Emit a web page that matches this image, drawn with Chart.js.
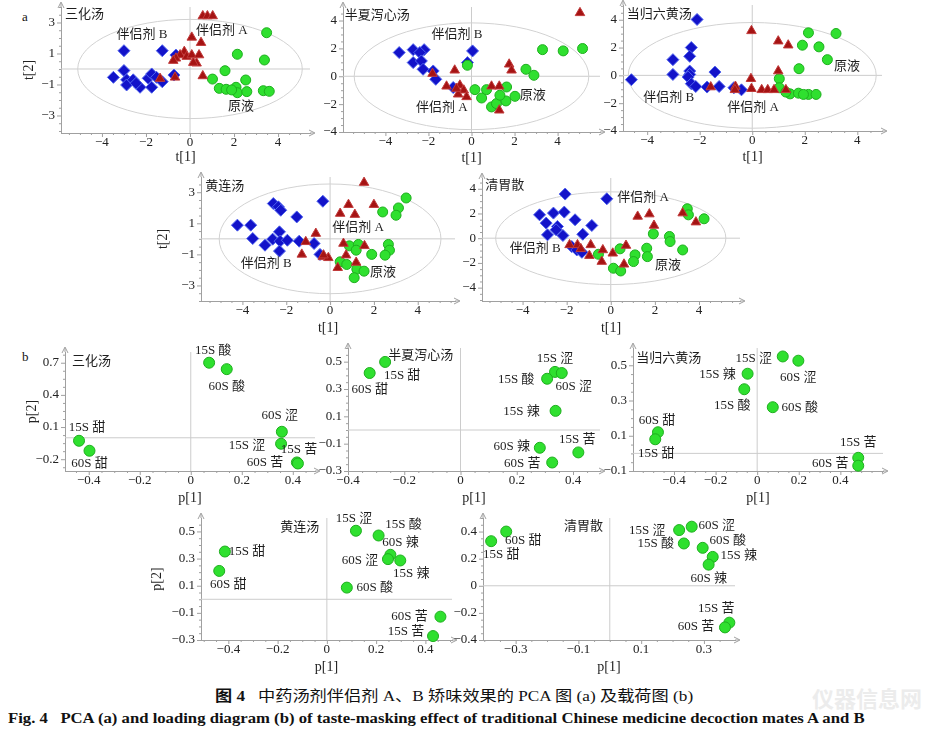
<!DOCTYPE html>
<html>
<head>
<meta charset="utf-8">
<script src="https://cdn.jsdelivr.net/npm/chart.js@4"></script>
<style>
body{margin:0;background:#fff;width:932px;height:740px;position:relative;overflow:hidden}
canvas{position:absolute}
.cap{position:absolute;white-space:pre;color:#111;line-height:1;transform-origin:left center}
</style>
</head>
<body>
<div class="cap" style="left:22px;top:9px;font:13px 'Liberation Serif'">a</div>
<div class="cap" style="left:22px;top:349px;font:13px 'Liberation Serif'">b</div>
<div class="cap" style="left:812px;top:681px;font:bold 22px 'Noto Sans CJK SC';color:#ececec">仪器信息网</div>
<div id="cap1" class="cap" style="left:215px;top:684px;font:15px 'Liberation Serif','Noto Sans CJK SC'"><b>图 4</b>   中药汤剂伴侣剂 A、B 矫味效果的 PCA 图 (a) 及载荷图 (b)</div>
<div id="cap2" class="cap" style="left:8px;top:711px;font:bold 14px 'Liberation Serif'">Fig. 4   PCA (a) and loading diagram (b) of taste-masking effect of traditional Chinese medicine decoction mates A and B</div>
<script>
// ---- score plots (a): [t1, t2] ----
const sanhuaB = [[-3.0,1.18],[-1.26,1.18],[-0.64,0.9],[-3.48,-0.54],[-3.0,-0.1],[-2.88,-0.7],[-2.88,-1.03],[-2.58,-0.7],[-2.27,-1.18],[-2.45,-0.92],[-1.9,-0.6],[-1.74,-0.32],[-1.74,-1.18],[-1.52,-0.54],[-1.26,-0.82],[-0.73,-0.39]];
const sanhuaA = [[0.58,3.42],[0.79,3.42],[1.03,3.42],[0.08,2.04],[0.5,1.7],[-0.26,1.12],[-0.45,0.9],[-0.64,0.69],[-0.76,0.54],[-0.15,0.8],[0.08,0.9],[0.41,0.9],[0.3,0.37],[0.15,0.41],[0.58,-0.45],[-0.68,-0.54],[-1.36,-0.62]];
const sanhuaY = [[3.48,2.34],[2.15,0.95],[3.38,0.58],[1.59,-0.11],[1.02,-0.65],[2.53,-0.71],[1.33,-1.25],[1.64,-1.31],[2.09,-1.18],[2.15,-1.53],[2.58,-1.46],[3.33,-1.4],[3.6,-1.44],[1.89,-1.35]];

const banxiaB = [[-3.36,1.7],[-2.71,1.91],[-2.2,1.91],[-2.4,1.7],[-2.71,0.98],[-2.33,1.1],[-2.25,0.5],[-1.78,0.38],[-1.66,-0.22],[0.05,1.82],[-0.19,0.98],[-0.85,-0.81]];
const banxiaA = [[5.04,4.55],[1.75,0.86],[1.86,0.43],[-0.78,0.43],[-1.81,0.19],[-1.16,-0.72],[-0.54,-0.65],[-0.36,-1.0],[-0.62,-1.29],[-0.23,-1.48],[0.93,-0.72],[1.29,-0.72],[1.29,-2.44],[-0.7,-0.88]];
const banxiaY = [[-0.19,0.79],[3.3,1.91],[4.26,1.82],[5.16,1.99],[2.53,0.5],[2.9,0.07],[0.16,-0.96],[0.47,-1.56],[0.7,-0.96],[0.93,-2.2],[1.16,-1.96],[1.63,-0.77],[1.6,-1.77],[2.02,-1.44],[1.32,-1.36]];

const dangguiB = [[-2.1,4.02],[-4.6,-0.31],[-3.02,1.13],[-3.02,0.07],[-2.32,2.0],[-2.38,1.37],[-2.38,0.31],[-2.38,0.07],[-2.44,-0.12],[-2.32,-0.6],[-2.15,-0.8],[-1.42,0.24],[-1.26,-0.8],[-1.72,-0.84],[-0.41,-1.04],[-0.7,-0.89]];
const dangguiA = [[-0.03,3.2],[0.99,2.46],[1.37,2.17],[0.99,0.31],[-0.05,-0.24],[-0.03,-0.96],[-0.64,-0.8],[-0.66,-1.04],[-1.58,-0.84],[0.36,-1.04],[0.59,-1.04],[0.83,-1.04],[1.28,-1.04]];
const dangguiY = [[2.14,3.06],[3.19,3.01],[1.91,2.17],[2.54,2.05],[2.86,1.13],[1.78,0.48],[1.03,-0.24],[1.03,-0.89],[1.44,-1.33],[1.76,-1.28],[2.14,-1.37],[2.43,-1.37],[1.28,-1.2],[1.95,-1.37]];

const huanglianB = [[-4.23,0.88],[-3.62,0.88],[-3.53,0.02],[-2.97,-0.41],[-2.59,2.27],[-2.36,2.06],[-2.25,1.84],[-1.52,1.41],[-0.33,2.42],[-2.62,-0.02],[-2.31,0.45],[-2.28,-0.15],[-2.31,-0.79],[-1.95,-0.09],[-1.41,-0.15],[-0.73,-0.3],[-0.46,-1.0]];
const huanglianA = [[1.55,3.62],[0.84,2.2],[0.46,1.63],[1.13,1.56],[2.0,2.2],[-0.65,0.34],[-1.11,-0.19],[-1.29,-1.0],[-0.33,-1.16],[-0.08,-1.22],[0.61,-0.3],[0.73,-1.05],[1.57,-0.45],[1.19,-1.52],[0.35,-1.86],[-0.3,-1.05]];
const huanglianY = [[3.47,2.63],[3.12,1.99],[3.01,1.52],[2.4,1.73],[0.88,-0.45],[1.29,-0.36],[1.19,-0.73],[1.9,-1.0],[2.66,-0.36],[2.71,-0.73],[2.51,-1.05],[0.46,-1.48],[0.76,-1.65],[1.22,-1.95],[1.55,-2.08],[1.1,-2.5]];

const qingweiB = [[-2.07,3.57],[-0.18,3.19],[-3.23,1.89],[-2.6,2.03],[-2.11,2.11],[-2.93,1.22],[-1.62,1.49],[-0.86,1.03],[-2.42,0.95],[-2.48,0.68],[-2.87,0.27],[-2.17,0.22],[-1.27,0.32],[-1.77,-0.68],[-1.54,-0.95],[-1.31,-1.14]];
const qingweiA = [[-1.87,-0.54],[-1.51,-0.54],[-1.36,-0.86],[-0.91,-0.54],[-0.97,-1.41],[-0.36,-0.95],[-0.41,-1.89],[0.09,-1.22],[0.69,-0.59],[0.6,-2.11],[1.22,1.76],[1.75,1.95],[1.96,1.03],[3.26,2.03],[3.86,1.3]];
const qingweiY = [[3.47,2.38],[3.52,1.89],[4.23,1.57],[1.93,0.35],[2.66,0.14],[2.69,-0.27],[3.26,-0.95],[1.63,-0.81],[1.66,-1.49],[1.1,-1.35],[1.03,-1.89],[0.42,-0.86],[-0.56,-1.3],[0.12,-2.43],[0.45,-2.65]];

// ---- loading plots (b): [p1, p2] ----
const sanhuaLoadNames = ["15S 酸","60S 酸","60S 涩","15S 涩","15S 苦","60S 苦","15S 甜","60S 甜"];
const sanhuaLoad = [[0.072,0.70],[0.141,0.64],[0.357,0.056],[0.354,-0.056],[0.416,-0.23],[0.42,-0.24],[-0.438,-0.028],[-0.397,-0.121]];
const banxiaLoadNames = ["15S 甜","60S 甜","15S 涩","60S 涩","15S 酸","15S 辣","60S 辣","15S 苦","60S 苦"];
const banxiaLoad = [[-0.268,0.498],[-0.323,0.417],[0.336,0.425],[0.36,0.417],[0.308,0.375],[0.338,0.14],[0.282,-0.13],[0.419,-0.164],[0.326,-0.238]];
const dangguiLoadNames = ["15S 涩","60S 涩","15S 辣","15S 酸","60S 酸","60S 甜","15S 甜","15S 苦","60S 苦"];
const dangguiLoad = [[0.123,0.55],[0.198,0.526],[-0.046,0.452],[-0.062,0.364],[0.075,0.262],[-0.477,0.12],[-0.49,0.08],[0.486,-0.025],[0.486,-0.07]];
const huanglianLoadNames = ["15S 甜","60S 甜","15S 涩","15S 酸","60S 辣","60S 涩","15S 辣","60S 酸","60S 苦","15S 苦"];
const huanglianLoad = [[-0.414,0.352],[-0.437,0.209],[0.118,0.505],[0.21,0.47],[0.258,0.328],[0.248,0.296],[0.298,0.286],[0.081,0.086],[0.461,-0.128],[0.431,-0.271]];
const qingweiLoadNames = ["15S 甜","60S 甜","15S 涩","60S 涩","15S 酸","60S 酸","15S 辣","60S 辣","15S 苦","60S 苦"];
const qingweiLoad = [[-0.378,0.329],[-0.33,0.4],[0.221,0.411],[0.261,0.436],[0.236,0.312],[0.296,0.28],[0.328,0.213],[0.315,0.156],[0.381,-0.272],[0.367,-0.307]];

// tick labels
const scoreTicks = [-4, -2, 0, 2, 4];
const scoreTicksOdd = [-3, -1, 1, 3];
const loadTicksX = [-0.4, -0.2, 0, 0.2, 0.4];
const qingweiLoadTicksX = [-0.3, -0.1, 0.1, 0.3];
const sanhuaLoadTicksY = [-0.2, 0.1, 0.4, 0.7];
const loadTicksY = [-0.3, -0.1, 0.1, 0.3, 0.5];
const dangguiLoadTicksY = [-0.1, 0.1, 0.3, 0.5];
const qingweiLoadTicksY = [-0.4, -0.2, 0, 0.2, 0.4];

const FONT = '"Liberation Serif", "Noto Sans CJK SC", serif';
const PADL = 56, PADR = 40, PADT = 14, PADB = 36;

// label offsets (px) for the loading points
const sanhuaOff = [[4,-12],[0,17],[-2,-16],[-34,2],[2,-13],[-33,-1],[8,-13],[0,13]];
const banxiaOff = [[17,14],[0,17],[0,-13],[12,14],[-31,1],[-34,1],[-28,-1],[-1,-13],[-30,1]];
const dangguiOff = [[-29,2],[0,17],[-30,1],[-12,16],[27,0],[-1,-12],[1,14],[0,-15],[-28,-2]];
const huanglianOff = [[22,0],[9,14],[-2,-12],[25,-11],[10,-12],[-28,1],[11,13],[28,0],[-31,0],[-27,-4]];
const qingweiOff = [[10,13],[17,9],[-32,1],[25,-1],[-28,0],[25,-7],[26,-1],[0,14],[-13,-14],[-29,-1]];

const fmt = v => (Math.abs(v) < 1e-9 ? '0' : String(+v.toFixed(1))).replace('-', '\u2212');
const toPts = arr => arr.map(([x, y]) => ({x, y}));

// zero lines, T2 ellipse, axis ticks/arrows, text labels
const decor = {
  id: 'decor',
  beforeDatasetsDraw(chart) {
    const d = chart.canvas._deco, ctx = chart.ctx, a = chart.chartArea;
    const sx = chart.scales.x, sy = chart.scales.y;
    const x0 = sx.getPixelForValue(0), y0 = sy.getPixelForValue(0);
    ctx.save();
    ctx.lineWidth = 1;
    ctx.strokeStyle = '#cccccc';
    ctx.beginPath();
    ctx.moveTo(a.left, y0); ctx.lineTo(a.right, y0);
    ctx.moveTo(x0, a.top); ctx.lineTo(x0, a.bottom);
    ctx.stroke();
    if (d.ellipse) {
      const rx = sx.getPixelForValue(d.ellipse[0]) - x0;
      const ry = y0 - sy.getPixelForValue(d.ellipse[1]);
      ctx.strokeStyle = '#d2d2d2';
      ctx.beginPath();
      ctx.ellipse(x0, y0, rx, ry, 0, 0, Math.PI * 2);
      ctx.stroke();
    }
    // ticks
    ctx.strokeStyle = '#a0a0a0';
    ctx.beginPath();
    const minor = (s, t, cb) => {
      const st = (t[1] - t[0]) / 4;
      for (let k = Math.ceil((s.min - t[0]) / st - 1e-6); t[0] + k * st <= s.max + 1e-9; k++) {
        const v = t[0] + k * st;
        const major = t.some(m => Math.abs(m - v) < 1e-6);
        cb(s.getPixelForValue(v), major ? 4 : 2);
      }
    };
    minor(sx, d.xt, (p, l) => { ctx.moveTo(p + 0.5, a.bottom); ctx.lineTo(p + 0.5, a.bottom + l); });
    minor(sy, d.yt, (p, l) => { ctx.moveTo(a.left, p + 0.5); ctx.lineTo(a.left - l, p + 0.5); });
    // arrows
    ctx.moveTo(a.left, a.top); ctx.lineTo(a.left, a.top - 4);
    ctx.moveTo(a.left - 3, a.top + 1); ctx.lineTo(a.left, a.top - 5); ctx.lineTo(a.left + 3, a.top + 1);
    ctx.moveTo(a.right, a.bottom); ctx.lineTo(a.right + 4, a.bottom);
    ctx.moveTo(a.right - 1, a.bottom - 3); ctx.lineTo(a.right + 5, a.bottom); ctx.lineTo(a.right - 1, a.bottom + 3);
    ctx.stroke();
    ctx.restore();
  },
  afterDatasetsDraw(chart) {
    const d = chart.canvas._deco, ctx = chart.ctx;
    const sx = chart.scales.x, sy = chart.scales.y;
    ctx.save();
    ctx.font = '13px ' + FONT;
    ctx.fillStyle = '#1e1e1e';
    ctx.textBaseline = 'middle';
    (d.notes || []).forEach(([t, x, y, al]) => {
      ctx.textAlign = al || 'center';
      ctx.fillText(t, sx.getPixelForValue(x), sy.getPixelForValue(y));
    });
    if (d.names) {
      ctx.textAlign = 'center';
      const els = chart.getDatasetMeta(0).data;
      d.names.forEach((t, i) => ctx.fillText(t, els[i].x + d.off[i][0], els[i].y + d.off[i][1]));
    }
    ctx.restore();
  }
};

function scoreSets(b, a, y) {
  return [
    {data: toPts(a), pointStyle: 'triangle', pointRadius: 5.5, pointHoverRadius: 5.5, backgroundColor: '#a51313', borderColor: '#c13b3b', borderWidth: 1, order: 0, clip: false},
    {data: toPts(y), pointStyle: 'circle', pointRadius: 5, pointHoverRadius: 5, backgroundColor: '#2fe02f', borderColor: '#1eae1e', borderWidth: 1, order: 1, clip: false},
    {data: toPts(b), pointStyle: 'rectRot', pointRadius: 6, pointHoverRadius: 6, backgroundColor: '#1313c9', borderColor: '#5064ee', borderWidth: 1, order: 2, clip: false}
  ];
}
function loadSets(v) {
  return [{data: toPts(v), pointStyle: 'circle', pointRadius: 5.5, pointHoverRadius: 5.5, backgroundColor: '#2fe02f', borderColor: '#1eae1e', borderWidth: 1, clip: false}];
}

function makeChart(g, datasets, deco) {
  const [L, T, R, B] = g.box;
  const cv = document.createElement('canvas');
  cv.width = R - L + PADL + PADR;
  cv.height = B - T + PADT + PADB;
  cv.style.left = (L - PADL) + 'px';
  cv.style.top = (T - PADT) + 'px';
  document.body.appendChild(cv);
  deco.xt = g.xt; deco.yt = g.yt;
  cv._deco = deco;
  const lh = 14 * 1.2 / 2;
  const tick = {font: {family: FONT, size: 13}, color: '#222', callback: fmt, autoSkip: false, maxRotation: 0};
  const noPad = s => { s.paddingTop = s.paddingBottom = s.paddingLeft = s.paddingRight = 0; };
  new Chart(cv, {
    type: 'scatter',
    data: {datasets},
    options: {
      responsive: false,
      animation: false,
      events: [],
      layout: {padding: {top: PADT, right: PADR, left: 0, bottom: 0}},
      plugins: {legend: {display: false}, tooltip: {enabled: false}},
      scales: {
        x: {
          type: 'linear', position: 'bottom', min: g.x[0], max: g.x[1],
          afterBuildTicks: s => { s.ticks = g.xt.map(v => ({value: v})); },
          afterFit: s => { s.height = PADB; noPad(s); },
          grid: {display: false, drawTicks: false},
          border: {display: true, color: '#a0a0a0'},
          ticks: Object.assign({padding: 2}, tick),
          title: {display: true, text: g.xTitle, color: '#222', font: {family: FONT, size: 14},
                  padding: {top: 0, bottom: Math.max(0, (B + PADB) - g.xTitleY - lh)}}
        },
        y: {
          type: 'linear', position: 'left', min: g.y[0], max: g.y[1],
          afterBuildTicks: s => { s.ticks = g.yt.map(v => ({value: v})); },
          afterFit: s => { s.width = PADL; noPad(s); },
          grid: {display: false, drawTicks: false},
          border: {display: true, color: '#a0a0a0'},
          ticks: Object.assign({padding: 6}, tick),
          title: {display: !!g.yTitle, text: g.yTitle || '', color: '#222', font: {family: FONT, size: 14},
                  padding: {top: Math.max(0, g.yTitleX - (L - PADL) - lh), bottom: 0}}
        }
      }
    },
    plugins: [decor]
  });
}

// (a) score plots
makeChart({box: [61, 7, 310, 133], x: [-5.86, 5.45], y: [-4.13, 4.0], xt: scoreTicks, yt: scoreTicksOdd, xTitle: 't[1]', xTitleY: 157, yTitle: 't[2]', yTitleX: 29},
  scoreSets(sanhuaB, sanhuaA, sanhuaY),
  {ellipse: [5.1, 3.2], notes: [['三化汤', -5.68, 3.48, 'left'], ['伴侣剂 B', -2.18, 2.19], ['伴侣剂 A', 1.45, 2.45], ['原液', 2.32, -2.45]]});
makeChart({box: [343, 7, 600, 132], x: [-5.97, 5.97], y: [-4.0, 4.97], xt: scoreTicks, yt: scoreTicks, xTitle: 't[1]', xTitleY: 158},
  scoreSets(banxiaB, banxiaA, banxiaY),
  {ellipse: [5.45, 3.83], notes: [['半夏泻心汤', -5.89, 4.38, 'left'], ['伴侣剂 B', -0.68, 3.01], ['伴侣剂 A', -1.38, -2.23], ['原液', 2.85, -1.36]]});
makeChart({box: [623, 5, 882, 131], x: [-4.92, 4.94], y: [-4.0, 5.06], xt: scoreTicks, yt: scoreTicks, xTitle: 't[1]', xTitleY: 157},
  scoreSets(dangguiB, dangguiA, dangguiY),
  {ellipse: [4.72, 3.8], notes: [['当归六黄汤', -4.78, 4.34, 'left'], ['伴侣剂 B', -3.18, -1.59], ['伴侣剂 A', 0.03, -2.31], ['原液', 3.61, 0.65]]});
makeChart({box: [201, 177, 455, 301], x: [-5.89, 5.7], y: [-4.0, 3.98], xt: scoreTicks, yt: scoreTicksOdd, xTitle: 't[1]', xTitleY: 328, yTitle: 't[2]', yTitleX: 163},
  scoreSets(huanglianB, huanglianA, huanglianY),
  {ellipse: [5.06, 3.53], notes: [['黄连汤', -5.7, 3.38, 'left'], ['伴侣剂 B', -2.92, -1.62], ['伴侣剂 A', 1.28, 0.75], ['原液', 2.42, -2.14]]});
makeChart({box: [482, 178, 740, 301], x: [-5.84, 5.86], y: [-5.08, 4.87], xt: scoreTicks, yt: scoreTicks, xTitle: 't[1]', xTitleY: 328},
  scoreSets(qingweiB, qingweiA, qingweiY),
  {ellipse: [5.22, 3.75], notes: [['清胃散', -5.69, 4.24, 'left'], ['伴侣剂 B', -3.43, -0.87], ['伴侣剂 A', 1.46, 3.27], ['原液', 2.6, -2.25]]});

// (b) loading plots
makeChart({box: [65, 352, 315, 471], x: [-0.493, 0.487], y: [-0.31, 0.80], xt: loadTicksX, yt: sanhuaLoadTicksY, xTitle: 'p[1]', xTitleY: 498, yTitle: 'p[2]', yTitleX: 32},
  loadSets(sanhuaLoad), {names: sanhuaLoadNames, off: sanhuaOff, notes: [['三化汤', -0.466, 0.715, 'left']]});
makeChart({box: [348, 348, 600, 471], x: [-0.4, 0.496], y: [-0.30, 0.60], xt: loadTicksX, yt: loadTicksY, xTitle: 'p[1]', xTitleY: 499},
  loadSets(banxiaLoad), {names: banxiaLoadNames, off: banxiaOff, notes: [['半夏泻心汤', -0.257, 0.545, 'left']]});
makeChart({box: [633, 348, 883, 471], x: [-0.597, 0.605], y: [-0.10, 0.598], xt: loadTicksX, yt: dangguiLoadTicksY, xTitle: 'p[1]', xTitleY: 498},
  loadSets(dangguiLoad), {names: dangguiLoadNames, off: dangguiOff, notes: [['当归六黄汤', -0.581, 0.537, 'left']]});
makeChart({box: [201, 518, 452, 640], x: [-0.511, 0.508], y: [-0.30, 0.599], xt: loadTicksX, yt: loadTicksY, xTitle: 'p[1]', xTitleY: 668, yTitle: 'p[2]', yTitleX: 157},
  loadSets(huanglianLoad), {names: huanglianLoadNames, off: huanglianOff, notes: [['黄连汤', -0.031, 0.527, 'right']]});
makeChart({box: [483, 518, 735, 640], x: [-0.404, 0.399], y: [-0.40, 0.50], xt: qingweiLoadTicksX, yt: qingweiLoadTicksY, xTitle: 'p[1]', xTitleY: 668},
  loadSets(qingweiLoad), {names: qingweiLoadNames, off: qingweiOff, notes: [['清胃散', -0.022, 0.438, 'right']]});

// stretch captions to the reference widths
[['cap1', 478], ['cap2', 857]].forEach(([id, w]) => {
  const el = document.getElementById(id);
  el.style.transform = 'scaleX(' + (w / el.offsetWidth) + ')';
});
</script>
</body>
</html>
